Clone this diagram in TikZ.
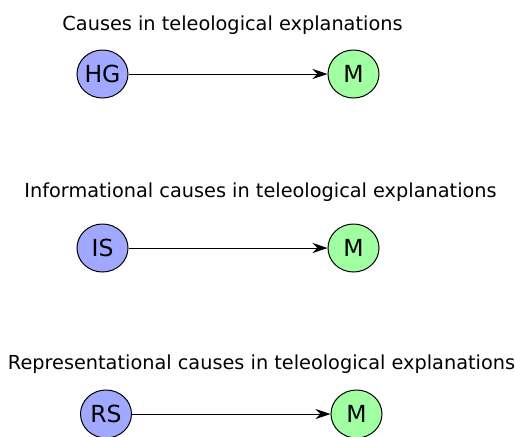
\documentclass[tikz,border=0pt]{standalone}
\usepackage{fontspec}
\setmainfont{DejaVu Sans}
\usetikzlibrary{arrows.meta,shapes.geometric}
\definecolor{nblue}{RGB}{160,168,255}
\definecolor{ngreen}{RGB}{160,255,160}
\begin{document}
\begin{tikzpicture}[x=1pt,y=-1pt,
  title/.style={font=\fontsize{19.3}{22}\selectfont, inner sep=0pt},
  cnode/.style={ellipse, draw=black, line width=1pt, minimum width=51pt, minimum height=48pt, inner sep=0pt, font=\fontsize{23.5}{27}\selectfont},
  src/.style={cnode, fill=nblue},
  tgt/.style={cnode, fill=ngreen},
  conn/.style={line width=0.9pt, -{Stealth[length=15pt,width=10pt,inset=5pt]}}]
\useasboundingbox (0,0) rectangle (515,437);
\node[title] (t1) at (232.5,25) {Causes in teleological explanations};
\node[src] (hg) at (102.5,74) {HG};
\node[tgt] (m1) at (353.5,74) {M};
\draw[conn] (hg) -- (m1);
\node[title] (t2) at (260.5,192) {Informational causes in teleological explanations};
\node[src] (is) at (102.5,248) {IS};
\node[tgt] (m2) at (353.5,248) {M};
\draw[conn] (is) -- (m2);
\node[title] (t3) at (261.5,364) {Representational causes in teleological explanations};
\node[src] (rs) at (106,414) {RS};
\node[tgt] (m3) at (356.5,414) {M};
\draw[conn] (rs) -- (m3);
\end{tikzpicture}
\end{document}
